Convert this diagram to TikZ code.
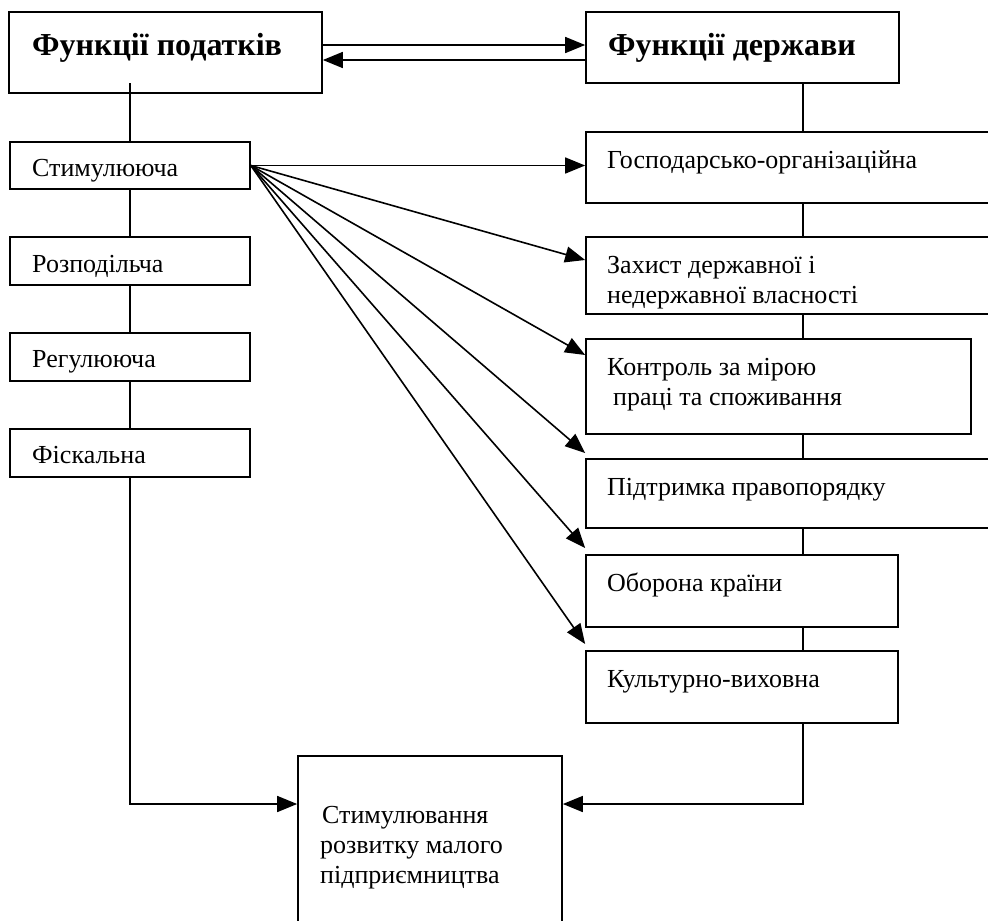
\documentclass[tikz,border=0pt]{standalone}
\usepackage{fontspec}
\setmainfont{Liberation Serif}
\usetikzlibrary{arrows.meta}
\tikzset{
  box/.style={draw, line width=1.7pt, inner sep=0pt, rectangle},
  txt/.style={inner sep=0pt, anchor=base west, font=\fontsize{26}{31}\selectfont},
  ttl/.style={inner sep=0pt, anchor=base west, font=\fontsize{32}{38}\selectfont\bfseries},
  conn/.style={line width=1.6pt},
  arr/.style={line width=1.6pt, -{Triangle[length=20pt,width=16pt]}}
}
\begin{document}
\begin{tikzpicture}[x=1pt,y=-1pt]
\path[use as bounding box, clip] (0,0) rectangle (988,921);
\fill[white] (0,0) rectangle (988,921);
% boxes
\node[box, minimum width=313pt, minimum height=81pt] (tax) at (165.5,52.5) {};
\node[box, minimum width=313pt, minimum height=71pt] (state) at (742.5,47.5) {};
\node[box, minimum width=240pt, minimum height=47pt] (stim) at (130,165.5) {};
\node[box, minimum width=240pt, minimum height=48pt] (rozp) at (130,261) {};
\node[box, minimum width=240pt, minimum height=48pt] (reg) at (130,357) {};
\node[box, minimum width=240pt, minimum height=48pt] (fisk) at (130,453) {};
\node[box, minimum width=409pt, minimum height=71pt] (gosp) at (790.5,167.5) {};
\node[box, minimum width=409pt, minimum height=77pt] (zakh) at (790.5,275.5) {};
\node[box, minimum width=385pt, minimum height=95pt] (kontr) at (778.5,386.5) {};
\node[box, minimum width=409pt, minimum height=69pt] (pidtr) at (790.5,493.5) {};
\node[box, minimum width=312pt, minimum height=72pt] (obor) at (742,591) {};
\node[box, minimum width=312pt, minimum height=72pt] (kult) at (742,687) {};
\node[box, minimum width=264pt, minimum height=174pt] (small) at (430,843) {};
% texts
\node[ttl] (t-tax) at (32,55) {Функції податків};
\node[ttl] (t-state) at (608,55) {Функції держави};
\node[txt] (t-stim) at (32,176) {Стимулююча};
\node[txt] (t-rozp) at (32,272) {Розподільча};
\node[txt] (t-reg) at (32,367) {Регулююча};
\node[txt] (t-fisk) at (32,463) {Фіскальна};
\node[txt] (t-gosp) at (607,168) {Господарсько-організаційна};
\node[txt] (t-zakh1) at (607,273) {Захист державної і};
\node[txt] (t-zakh2) at (607,303) {недержавної власності};
\node[txt] (t-kontr1) at (607,375) {Контроль за мірою};
\node[txt] (t-kontr2) at (613,405) {праці та споживання};
\node[txt] (t-pidtr) at (607,495) {Підтримка правопорядку};
\node[txt] (t-obor) at (607,591) {Оборона країни};
\node[txt] (t-kult) at (607,687) {Культурно-виховна};
\node[txt] (t-small1) at (322,823) {Стимулювання};
\node[txt] (t-small2) at (320,853) {розвитку малого};
\node[txt] (t-small3) at (320,883) {підприємництва};
% top arrows
\draw[arr] (tax.east |- 0,45) -- (state.west |- 0,45);
\draw[arr] (state.west |- 0,60) -- (tax.east |- 0,60);
% left column
\draw[conn] (stim.north |- 0,83) -- (stim.north);
\draw[conn] (stim.south) -- (rozp.north);
\draw[conn] (rozp.south) -- (reg.north);
\draw[conn] (reg.south) -- (fisk.north);
\draw[arr] (fisk.south) -- (fisk.south |- 0,804) -- (small.west |- 0,804);
% right column
\draw[conn] (state.south -| 803,0) -- (gosp.north -| 803,0);
\draw[conn] (gosp.south -| 803,0) -- (zakh.north -| 803,0);
\draw[conn] (zakh.south -| 803,0) -- (kontr.north -| 803,0);
\draw[conn] (kontr.south -| 803,0) -- (pidtr.north -| 803,0);
\draw[conn] (pidtr.south -| 803,0) -- (obor.north -| 803,0);
\draw[conn] (obor.south -| 803,0) -- (kult.north -| 803,0);
\draw[arr] (kult.south -| 803,0) -- (803,804) -- (small.east |- 0,804);
% fan
\draw[arr] (stim.east) -- (gosp.west |- stim.east);
\draw[arr] (stim.east) -- (zakh.west |- 0,260);
\draw[arr] (stim.east) -- (kontr.west |- 0,355);
\draw[arr] (stim.east) -- (pidtr.west |- 0,453);
\draw[arr] (stim.east) -- (obor.west |- 0,548);
\draw[arr] (stim.east) -- (kult.west |- 0,644);
\end{tikzpicture}
\end{document}
